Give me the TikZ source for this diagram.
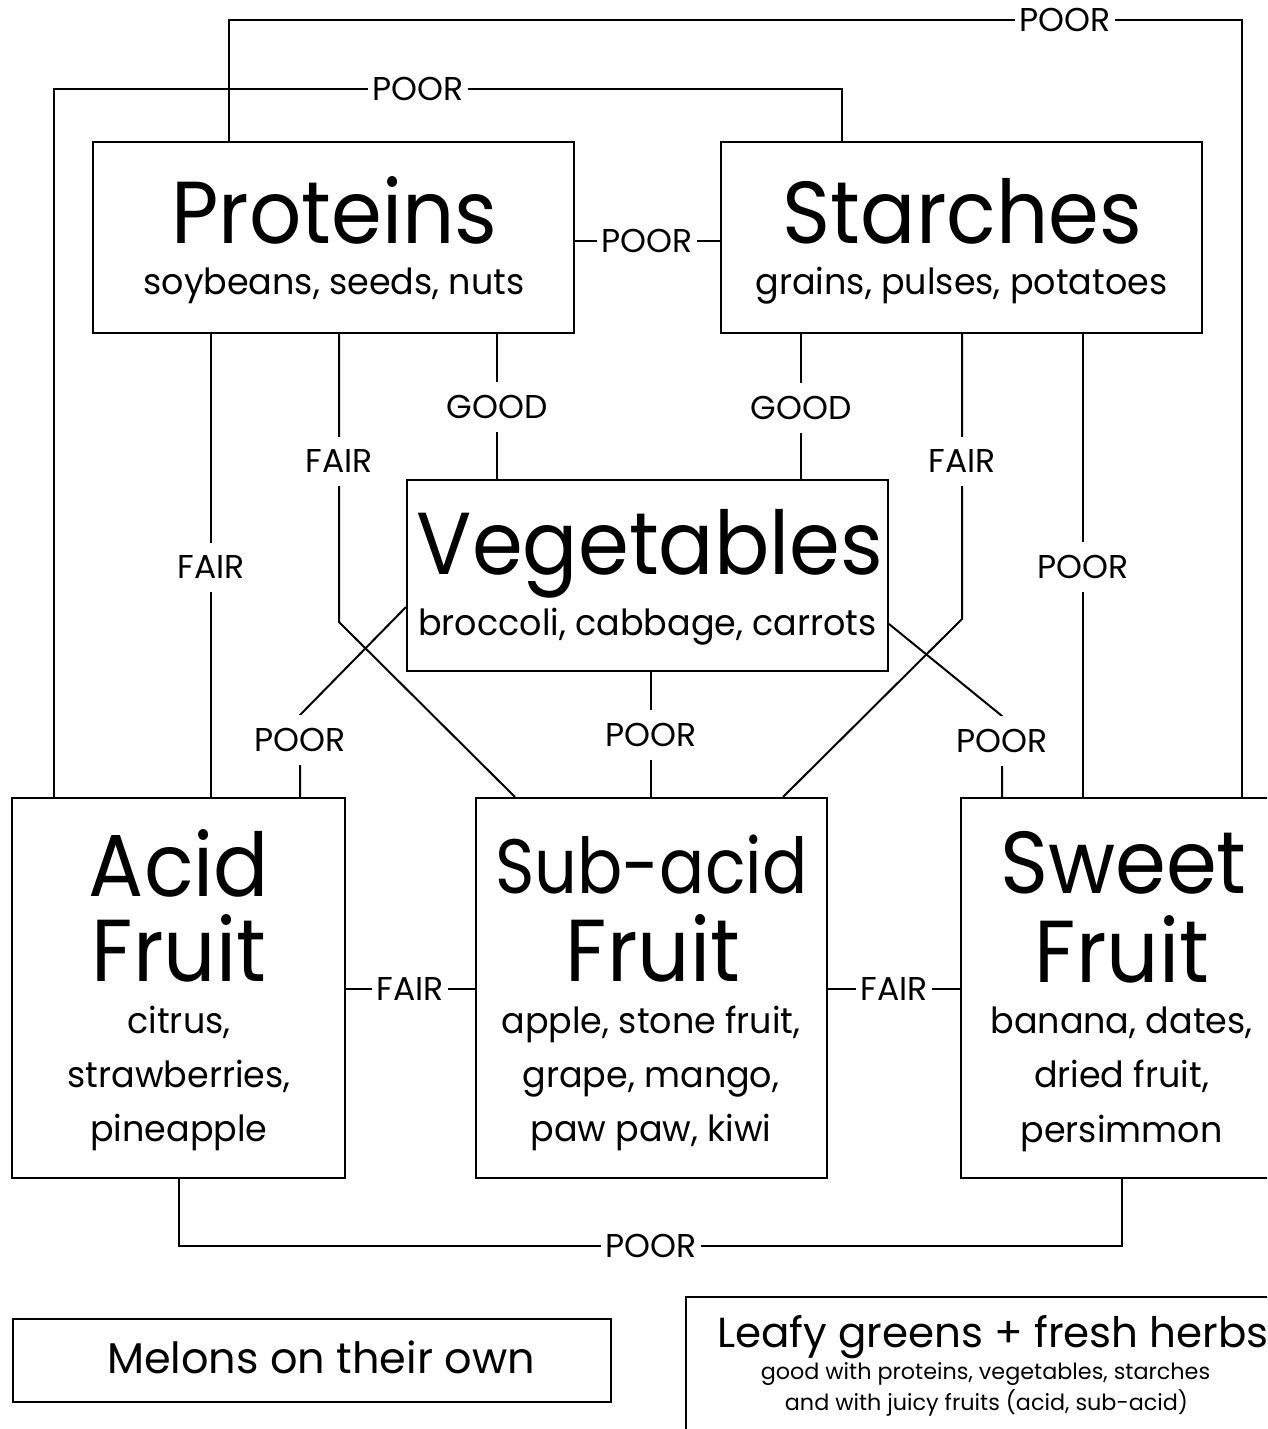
\documentclass[tikz,border=0pt]{standalone}
\usepackage{fontspec}
\setmainfont{Poppins}
\newfontfamily\ttlfont[FakeStretch=0.93]{Poppins}
\newfontfamily\subacidfont[FakeStretch=0.87]{Poppins}
\newfontfamily\subfont[FakeStretch=0.97]{Poppins}
\begin{document}
\begin{tikzpicture}[x=1pt,y=-1pt,line width=2pt,
  box/.style={draw,line width=2pt,rectangle,inner sep=0pt},
  ttl/.style={font=\ttlfont\fontsize{88}{88}\selectfont,inner sep=0pt,anchor=base},
  subt/.style={font=\subfont\fontsize{36}{36}\selectfont,inner sep=0pt,anchor=base},
  lbl/.style={font=\fontsize{33}{33}\selectfont,fill=white,inner xsep=4pt,inner ysep=13pt}]
\useasboundingbox (0,0) rectangle (1267,1429);
\clip (0,0) rectangle (1267,1429);
% boxes
\node[box,minimum width=481pt,minimum height=191pt] (prot) at (333.5,237.5) {};
\node[box,minimum width=481pt,minimum height=191pt] (star) at (961.5,237.5) {};
\node[box,minimum width=481pt,minimum height=191pt] (veg) at (647.5,575.5) {};
\node[box,minimum width=333pt,minimum height=380pt] (acid) at (178.5,988) {};
\node[box,minimum width=351pt,minimum height=380pt] (sub) at (651.5,988) {};
\node[box,minimum width=322pt,minimum height=380pt] (sweet) at (1122,988) {};
\node[box,minimum width=598pt,minimum height=83pt] (melon) at (312,1360.5) {};
\node[box,minimum width=599pt,minimum height=143pt] (leafy) at (985.5,1368.5) {};
% texts
\node[ttl] (protT) at (334.5,243) {Proteins};
\node[subt] (protS) at (334,294) {soybeans, seeds, nuts};
\node[ttl] (starT) at (962.5,243) {Starches};
\node[subt] (starS) at (961.5,294) {grains, pulses, potatoes};
\node[ttl] (vegT) at (650,574) {Vegetables};
\node[subt] (vegS) at (647.5,635) {broccoli, cabbage, carrots};
\node[ttl] (acidT1) at (179,896) {Acid};
\node[ttl] (acidT2) at (179,981) {Fruit};
\node[subt] (acidS1) at (179,1033) {citrus,};
\node[subt] (acidS2) at (179,1087) {strawberries,};
\node[subt] (acidS3) at (179,1141) {pineapple};
\node[ttl,font=\subacidfont\fontsize{77}{77}\selectfont] (subT1) at (651.5,893) {Sub-acid};
\node[ttl] (subT2) at (653,981) {Fruit};
\node[subt] (subS1) at (651,1033) {apple, stone fruit,};
\node[subt] (subS2) at (651,1087) {grape, mango,};
\node[subt] (subS3) at (651,1141) {paw paw, kiwi};
\node[ttl] (swT1) at (1123.5,893) {Sweet};
\node[ttl] (swT2) at (1122,982) {Fruit};
\node[subt] (swS1) at (1121.5,1033) {banana, dates,};
\node[subt] (swS2) at (1121.5,1087) {dried fruit,};
\node[subt] (swS3) at (1121.5,1142) {persimmon};
\node[subt,font=\fontsize{43}{43}\selectfont] (melT) at (321,1373) {Melons on their own};
\node[subt,font=\fontsize{42}{42}\selectfont] (leafT) at (993,1347) {Leafy greens + fresh herbs};
\node[subt,font=\fontsize{22.3}{22.3}\selectfont] (leafS1) at (985.5,1379) {good with proteins, vegetables, starches};
\node[subt,font=\fontsize{22.3}{22.3}\selectfont] (leafS2) at (986.5,1410) {and with juicy fruits (acid, sub-acid)};
% label positions
\coordinate (cTop) at (1065,20);
\coordinate (cSec) at (418,89);
\coordinate (cPS) at (647,241);
\coordinate (cG1) at (497,407);
\coordinate (cG2) at (801,408);
\coordinate (cF1) at (211,567);
\coordinate (cF2) at (339,461);
\coordinate (cF3) at (962,461);
\coordinate (cP1) at (1083,567);
\coordinate (cP2) at (300,740);
\coordinate (cP3) at (1002,741);
\coordinate (cP4) at (651,735);
\coordinate (cF4) at (410,989);
\coordinate (cF5) at (894,989);
\coordinate (cBot) at (651,1246);
\coordinate (kF2) at (339,622);
\coordinate (kF3) at (962,619);
\coordinate (kP2) at (300,715);
\coordinate (kP3) at (1002,716);
% connectors
\draw (prot.north -| 229,0) |- (cTop) -| (sweet.north -| 1242,0);
\draw (acid.north -| 54,0) |- (cSec) -| (star.north -| 842,0);
\draw (prot.east |- cPS) -- (star.west |- cPS);
\draw (prot.south -| cG1) -- (veg.north -| cG1);
\draw (star.south -| cG2) -- (veg.north -| cG2);
\draw (prot.south -| cF1) -- (acid.north -| cF1);
\draw (prot.south -| cF2) -- (kF2) -- (sub.north -| 515,0);
\draw (star.south -| cF3) -- (kF3) -- (sub.north -| 783,0);
\draw (star.south -| cP1) -- (sweet.north -| cP1);
\draw (veg.west |- 0,607) -- (kP2) -- (acid.north -| kP2);
\draw (veg.east |- 0,624) -- (kP3) -- (sweet.north -| kP3);
\draw (veg.south -| cP4) -- (sub.north -| cP4);
\draw (acid.east |- cF4) -- (sub.west |- cF4);
\draw (sub.east |- cF5) -- (sweet.west |- cF5);
\draw (acid.south -| 179,0) |- (cBot) -| (sweet.south -| 1122,0);
% labels
\node[lbl] (lTop) at (cTop) {POOR};
\node[lbl] (lSec) at (cSec) {POOR};
\node[lbl] (lPS) at (cPS) {POOR};
\node[lbl] (lG1) at (cG1) {GOOD};
\node[lbl] (lG2) at (cG2) {GOOD};
\node[lbl] (lF1) at (cF1) {FAIR};
\node[lbl] (lF2) at (cF2) {FAIR};
\node[lbl] (lF3) at (cF3) {FAIR};
\node[lbl] (lP1) at (cP1) {POOR};
\node[lbl] (lP2) at (cP2) {POOR};
\node[lbl] (lP3) at (cP3) {POOR};
\node[lbl] (lP4) at (cP4) {POOR};
\node[lbl] (lF4) at (cF4) {FAIR};
\node[lbl] (lF5) at (cF5) {FAIR};
\node[lbl] (lBot) at (cBot) {POOR};
\end{tikzpicture}
\end{document}
